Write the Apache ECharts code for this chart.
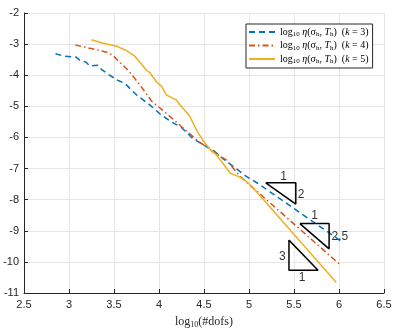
<!DOCTYPE html>
<html>
<head>
<meta charset="utf-8">
<script src="https://cdn.jsdelivr.net/npm/echarts@6/dist/echarts.min.js"></script>
<style>
html, body { margin: 0; padding: 0; background: #fff; }
#chart { width: 395px; height: 334px; }
</style>
</head>
<body>
<div id="chart"></div>
<script>
// estimator curves, [log10(#dofs), log10 eta]
var k3 = [[2.85, -3.31], [2.95, -3.39], [3.08, -3.42], [3.12, -3.52], [3.19, -3.58], [3.23, -3.70],
  [3.32, -3.68], [3.36, -3.81], [3.45, -4.00], [3.54, -4.16], [3.62, -4.26], [3.71, -4.52],
  [3.75, -4.63], [3.90, -4.96], [4.01, -5.24], [4.12, -5.47], [4.25, -5.68], [4.38, -6.05],
  [4.60, -6.41], [4.71, -6.68], [4.97, -7.25], [5.10, -7.48], [6.03, -9.35]]
var k4 = [[3.07, -3.03], [3.27, -3.16], [3.42, -3.26], [3.49, -3.37], [3.54, -3.52], [3.64, -3.79],
  [3.73, -4.10], [3.80, -4.36], [3.92, -4.84], [4.03, -5.10], [4.16, -5.42], [4.30, -5.78],
  [4.45, -6.15], [4.60, -6.46], [4.75, -6.73], [4.90, -7.25], [6.02, -10.11]]
var k5 = [[3.25, -2.86], [3.38, -2.97], [3.53, -3.07], [3.64, -3.21], [3.69, -3.31], [3.72, -3.36],
  [3.74, -3.34], [3.77, -3.52], [3.86, -3.84], [3.90, -3.92], [3.92, -3.90], [3.97, -4.21],
  [4.03, -4.36], [4.08, -4.63], [4.19, -4.79], [4.23, -4.94], [4.34, -5.31], [4.42, -5.78],
  [4.49, -6.10], [4.56, -6.36], [4.64, -6.57], [4.71, -6.83], [4.79, -7.15], [4.88, -7.25],
  [4.95, -7.36], [5.03, -7.57], [5.97, -10.66]]

// slope triangles and their labels
var tri2 = [[5.186, -7.46], [5.52, -7.46], [5.52, -8.14], [5.186, -7.46]]
var tri25 = [[5.565, -8.77], [5.89, -8.77], [5.89, -9.58], [5.565, -8.77]]
var tri3 = [[5.444, -9.30], [5.444, -10.27], [5.767, -10.27], [5.444, -9.30]]
var slopeLabels = [[5.385, -7.25, '1'], [5.58, -7.83, '2'], [5.73, -8.51, '1'],
  [6.01, -9.20, '2.5'], [5.37, -9.83, '3'], [5.59, -10.51, '1']]

var names = ['k3', 'k4', 'k5']
var legendText = {
  k3: '{n|log}{s|10} {i|η}(σ{s|h}, {i|T}{s|h})  ({i|k} = 3)',
  k4: '{n|log}{s|10} {i|η}(σ{s|h}, {i|T}{s|h})  ({i|k} = 4)',
  k5: '{n|log}{s|10} {i|η}(σ{s|h}, {i|T}{s|h})  ({i|k} = 5)'
}

var serif = 'Liberation Serif'
var chart = echarts.init(document.getElementById('chart'))

function triangle (data) {
  return {
    type: 'line',
    data: data,
    symbol: 'none',
    silent: true,
    lineStyle: { color: '#000', width: 1.5 },
    z: 5
  }
}

var option = {
  animation: false,
  grid: { left: 24, right: 11, top: 13, bottom: 35 },
  xAxis: {
    type: 'value',
    min: 2.5,
    max: 6.5,
    interval: 0.5,
    name: '{n|log}{s|10}(#dofs)',
    nameLocation: 'middle',
    nameGap: 22,
    nameTextStyle: {
      color: '#262626',
      fontFamily: serif,
      fontSize: 12,
      rich: {
        n: { fontFamily: serif, fontSize: 12, color: '#262626' },
        s: { fontFamily: serif, fontSize: 8, color: '#262626', padding: [6, 0, 0, 0] }
      }
    },
    axisLine: { lineStyle: { color: '#262626' } },
    axisTick: { inside: true, length: 4, lineStyle: { color: '#262626' } },
    axisLabel: { color: '#262626', fontFamily: 'Liberation Sans', fontSize: 11, margin: 6 },
    splitLine: { show: true, lineStyle: { color: '#e6e6e6' } }
  },
  yAxis: {
    type: 'value',
    min: -11,
    max: -2,
    interval: 1,
    axisLine: { show: true, lineStyle: { color: '#262626' } },
    axisTick: { show: true, inside: true, length: 4, lineStyle: { color: '#262626' } },
    axisLabel: { color: '#262626', fontFamily: 'Liberation Sans', fontSize: 11, margin: 5 },
    splitLine: { show: true, lineStyle: { color: '#e6e6e6' } }
  },
  legend: {
    data: names,
    orient: 'vertical',
    left: 246,
    top: 24,
    padding: [3, 4, 3, 2],
    itemWidth: 26,
    itemHeight: 10,
    itemGap: 2.5,
    itemStyle: { opacity: 0 },
    backgroundColor: '#fff',
    borderColor: '#262626',
    borderWidth: 1,
    borderRadius: 0,
    formatter: function (name) { return legendText[name] },
    textStyle: {
      color: '#000',
      fontFamily: serif,
      fontSize: 10,
      rich: {
        n: { fontFamily: serif, fontSize: 10 },
        i: { fontFamily: serif, fontSize: 10, fontStyle: 'italic' },
        s: { fontFamily: serif, fontSize: 7, padding: [5, 0, 0, 0] }
      }
    }
  },
  series: [
    {
      name: 'k3',
      type: 'line',
      data: k3,
      symbol: 'none',
      lineStyle: { color: '#0072BD', width: 1.5, type: [6, 4] },
      itemStyle: { color: '#0072BD' }
    },
    {
      name: 'k4',
      type: 'line',
      data: k4,
      symbol: 'none',
      lineStyle: { color: '#D95319', width: 1.5, type: [6, 3, 1.5, 3] },
      itemStyle: { color: '#D95319' }
    },
    {
      name: 'k5',
      type: 'line',
      data: k5,
      symbol: 'none',
      lineStyle: { color: '#EDB120', width: 1.5 },
      itemStyle: { color: '#EDB120' }
    },
    triangle(tri2),
    triangle(tri25),
    triangle(tri3),
    {
      type: 'scatter',
      data: slopeLabels,
      symbolSize: 0,
      silent: true,
      label: {
        show: true,
        position: 'inside',
        formatter: function (p) { return p.value[2] },
        color: '#000',
        fontFamily: 'Liberation Sans',
        fontSize: 12
      },
      z: 6
    }
  ]
}
chart.setOption(option)
</script>
</body>
</html>
